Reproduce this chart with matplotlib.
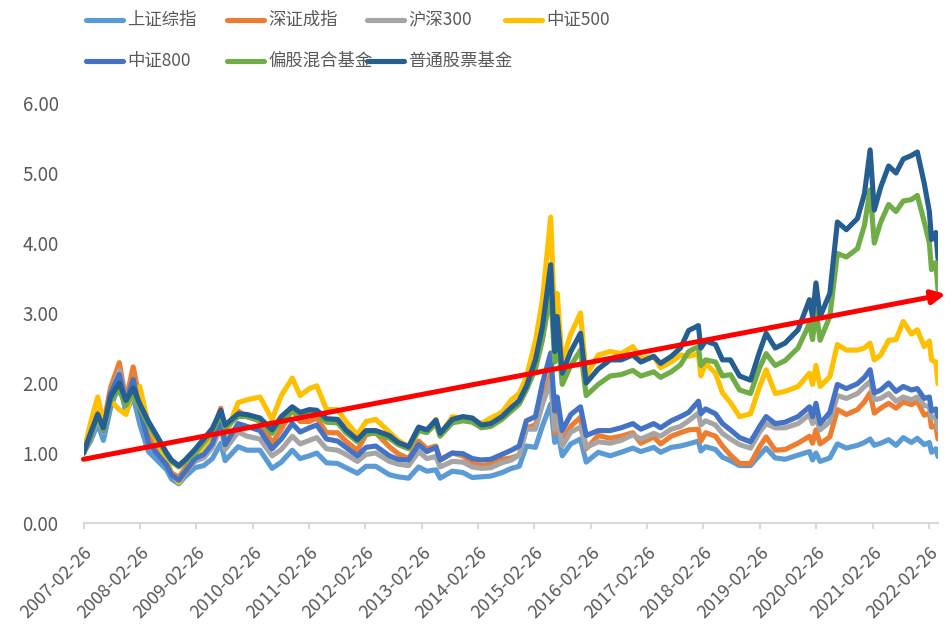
import numpy as np
import pandas as pd
import matplotlib
matplotlib.use('Agg')
import matplotlib.pyplot as plt
from matplotlib.lines import Line2D
from matplotlib.ticker import FormatStrFormatter

plt.rcParams['font.family'] = ['Noto Sans CJK SC', 'DejaVu Sans']

# 采样日期
dates = pd.to_datetime([
    '2007-02-26', '2007-04-15', '2007-05-29', '2007-07-05', '2007-08-20', '2007-10-16', '2007-11-28', '2008-01-14', '2008-02-26', '2008-04-22',
    '2008-06-20', '2008-08-18', '2008-09-18', '2008-11-04', '2008-12-15', '2009-02-17', '2009-04-15', '2009-06-10', '2009-08-04', '2009-09-01',
    '2009-11-24', '2010-01-20', '2010-04-15', '2010-07-02', '2010-08-31', '2010-11-10', '2010-12-31', '2011-03-01', '2011-04-18', '2011-06-20',
    '2011-08-31', '2011-10-24', '2012-01-06', '2012-03-02', '2012-05-04', '2012-07-31', '2012-09-26', '2012-12-03', '2013-02-06', '2013-03-31',
    '2013-05-29', '2013-06-25', '2013-09-12', '2013-11-20', '2014-01-20', '2014-03-20', '2014-05-20', '2014-07-31', '2014-09-30', '2014-11-20',
    '2015-01-05', '2015-03-05', '2015-04-20', '2015-06-12', '2015-07-08', '2015-07-24', '2015-08-26', '2015-10-20', '2015-12-22', '2016-01-28',
    '2016-04-15', '2016-07-01', '2016-09-10', '2016-11-25', '2017-01-16', '2017-04-10', '2017-05-24', '2017-08-01', '2017-09-30', '2017-11-22',
    '2018-01-24', '2018-02-09', '2018-03-12', '2018-05-15', '2018-06-29', '2018-08-20', '2018-10-18', '2018-12-28', '2019-02-25', '2019-04-08',
    '2019-06-06', '2019-08-09', '2019-11-01', '2020-01-14', '2020-02-03', '2020-02-25', '2020-03-23', '2020-05-25', '2020-07-13', '2020-09-09',
    '2020-11-20', '2021-01-04', '2021-02-10', '2021-03-09', '2021-04-20', '2021-06-10', '2021-07-28', '2021-09-13', '2021-11-05', '2021-12-13',
    '2022-01-27', '2022-03-01', '2022-03-15', '2022-04-12', '2022-04-26',
])

# 上证综指
sh = [1.00, 1.18, 1.42, 1.18, 1.64, 2.00, 1.58, 1.81, 1.41, 1.02,
      0.89, 0.76, 0.63, 0.56, 0.66, 0.79, 0.82, 0.92, 1.14, 0.89,
      1.09, 1.04, 1.04, 0.78, 0.87, 1.04, 0.92, 0.96, 1.00, 0.86,
      0.85, 0.79, 0.71, 0.81, 0.81, 0.69, 0.66, 0.64, 0.80, 0.74,
      0.76, 0.64, 0.74, 0.72, 0.65, 0.66, 0.67, 0.72, 0.78, 0.81,
      1.10, 1.08, 1.39, 1.70, 1.15, 1.34, 0.96, 1.13, 1.20, 0.87,
      1.01, 0.96, 1.01, 1.07, 1.02, 1.08, 1.01, 1.08, 1.10, 1.13,
      1.17, 1.03, 1.09, 1.05, 0.94, 0.89, 0.82, 0.82, 0.97, 1.07,
      0.93, 0.91, 0.97, 1.02, 0.90, 1.00, 0.88, 0.93, 1.13, 1.07,
      1.11, 1.15, 1.20, 1.11, 1.14, 1.19, 1.11, 1.22, 1.15, 1.21,
      1.12, 1.15, 1.01, 1.06, 0.95]
# 深证成指
sz = [1.00, 1.21, 1.58, 1.40, 1.93, 2.29, 1.75, 2.23, 1.75, 1.29,
      1.05, 0.90, 0.72, 0.65, 0.78, 1.00, 1.13, 1.29, 1.64, 1.29,
      1.60, 1.52, 1.46, 1.14, 1.34, 1.62, 1.45, 1.45, 1.50, 1.29,
      1.29, 1.17, 1.04, 1.26, 1.29, 1.09, 0.99, 0.92, 1.17, 1.06,
      1.10, 0.90, 1.00, 0.96, 0.86, 0.82, 0.84, 0.91, 0.93, 0.97,
      1.36, 1.40, 1.74, 2.13, 1.29, 1.55, 1.17, 1.38, 1.51, 1.06,
      1.25, 1.21, 1.24, 1.29, 1.14, 1.23, 1.13, 1.24, 1.29, 1.33,
      1.34, 1.17, 1.29, 1.24, 1.10, 0.97, 0.85, 0.85, 1.09, 1.23,
      1.04, 1.05, 1.14, 1.24, 1.14, 1.33, 1.13, 1.23, 1.62, 1.55,
      1.62, 1.73, 1.86, 1.57, 1.64, 1.71, 1.64, 1.73, 1.69, 1.74,
      1.54, 1.57, 1.37, 1.39, 1.20]
# 沪深300
hs300 = [1.00, 1.22, 1.50, 1.30, 1.85, 2.18, 1.75, 2.00, 1.60, 1.15,
         0.98, 0.84, 0.70, 0.62, 0.72, 0.88, 0.93, 1.08, 1.38, 1.05,
         1.30, 1.24, 1.20, 0.96, 1.05, 1.24, 1.13, 1.18, 1.22, 1.06,
         1.04, 0.98, 0.88, 0.98, 1.00, 0.88, 0.84, 0.82, 1.02, 0.92,
         0.95, 0.80, 0.88, 0.87, 0.80, 0.78, 0.79, 0.86, 0.90, 0.97,
         1.34, 1.34, 1.70, 2.04, 1.34, 1.50, 1.10, 1.30, 1.37, 1.08,
         1.16, 1.14, 1.18, 1.26, 1.20, 1.28, 1.24, 1.34, 1.38, 1.46,
         1.57, 1.40, 1.46, 1.40, 1.28, 1.20, 1.12, 1.07, 1.30, 1.42,
         1.36, 1.36, 1.42, 1.55, 1.42, 1.50, 1.33, 1.45, 1.82, 1.78,
         1.85, 1.95, 2.02, 1.76, 1.78, 1.85, 1.74, 1.80, 1.76, 1.80,
         1.68, 1.66, 1.50, 1.52, 1.33]
# 中证500
zz500 = [1.00, 1.45, 1.80, 1.45, 1.75, 1.62, 1.55, 1.90, 1.95, 1.40,
         1.15, 0.90, 0.70, 0.58, 0.72, 0.95, 1.10, 1.25, 1.58, 1.25,
         1.72, 1.76, 1.80, 1.48, 1.82, 2.07, 1.82, 1.92, 1.96, 1.62,
         1.62, 1.45, 1.26, 1.45, 1.48, 1.30, 1.18, 1.09, 1.36, 1.30,
         1.48, 1.25, 1.52, 1.50, 1.48, 1.42, 1.50, 1.58, 1.76, 1.85,
         2.08, 2.60, 3.20, 4.37, 2.80, 3.28, 2.30, 2.70, 3.00, 2.10,
         2.40, 2.45, 2.42, 2.52, 2.35, 2.38, 2.22, 2.30, 2.40, 2.38,
         2.42, 2.10, 2.28, 2.14, 1.86, 1.72, 1.52, 1.56, 1.95, 2.19,
         1.85, 1.88, 1.95, 2.14, 1.98, 2.25, 1.95, 2.09, 2.55, 2.47,
         2.47, 2.50, 2.57, 2.33, 2.40, 2.61, 2.62, 2.88, 2.70, 2.76,
         2.52, 2.60, 2.33, 2.30, 1.99]
# 中证800
zz800 = [1.00, 1.25, 1.55, 1.32, 1.85, 2.12, 1.72, 2.05, 1.62, 1.15,
         0.98, 0.83, 0.69, 0.61, 0.73, 0.92, 0.98, 1.13, 1.50, 1.12,
         1.42, 1.38, 1.32, 1.06, 1.20, 1.42, 1.30, 1.36, 1.40, 1.20,
         1.17, 1.08, 0.96, 1.08, 1.10, 0.96, 0.91, 0.90, 1.12, 1.02,
         1.08, 0.90, 1.00, 0.99, 0.92, 0.90, 0.91, 0.98, 1.04, 1.10,
         1.46, 1.52, 2.00, 2.43, 1.60, 1.80, 1.32, 1.55, 1.66, 1.25,
         1.32, 1.32, 1.36, 1.42, 1.34, 1.42, 1.36, 1.46, 1.52, 1.58,
         1.74, 1.56, 1.63, 1.56, 1.42, 1.33, 1.22, 1.16, 1.38, 1.52,
         1.42, 1.44, 1.52, 1.66, 1.52, 1.71, 1.42, 1.58, 1.98, 1.92,
         1.99, 2.08, 2.19, 1.86, 1.90, 2.00, 1.88, 1.95, 1.90, 1.92,
         1.78, 1.80, 1.60, 1.63, 1.52]
# 偏股混合基金
mix_fund = [1.00, 1.28, 1.52, 1.33, 1.75, 1.90, 1.68, 1.85, 1.65, 1.40,
            1.20, 0.98, 0.88, 0.80, 0.88, 1.00, 1.15, 1.30, 1.56, 1.36,
            1.52, 1.52, 1.46, 1.28, 1.46, 1.60, 1.52, 1.56, 1.56, 1.44,
            1.43, 1.29, 1.16, 1.28, 1.28, 1.21, 1.12, 1.06, 1.32, 1.29,
            1.42, 1.24, 1.43, 1.46, 1.44, 1.36, 1.38, 1.48, 1.60, 1.70,
            1.90, 2.20, 2.62, 3.30, 2.30, 2.70, 1.98, 2.25, 2.47, 1.82,
            1.98, 2.10, 2.12, 2.18, 2.10, 2.16, 2.08, 2.16, 2.26, 2.45,
            2.52, 2.25, 2.33, 2.30, 2.10, 2.12, 1.90, 1.85, 2.22, 2.42,
            2.25, 2.32, 2.50, 2.85, 2.62, 3.04, 2.61, 2.95, 3.85, 3.80,
            3.92, 4.25, 4.76, 4.00, 4.30, 4.55, 4.45, 4.60, 4.62, 4.68,
            4.30, 4.00, 3.62, 3.72, 3.33]
# 普通股票基金
stock_fund = [1.00, 1.30, 1.55, 1.36, 1.80, 2.00, 1.75, 1.93, 1.70, 1.45,
              1.23, 1.00, 0.90, 0.82, 0.90, 1.05, 1.20, 1.35, 1.61, 1.40,
              1.56, 1.55, 1.50, 1.33, 1.52, 1.66, 1.58, 1.62, 1.61, 1.49,
              1.48, 1.33, 1.19, 1.32, 1.32, 1.25, 1.15, 1.09, 1.37, 1.33,
              1.47, 1.28, 1.48, 1.52, 1.50, 1.40, 1.42, 1.52, 1.65, 1.75,
              1.95, 2.33, 2.81, 3.69, 2.45, 2.95, 2.14, 2.45, 2.71, 2.00,
              2.20, 2.33, 2.33, 2.40, 2.30, 2.38, 2.28, 2.38, 2.50, 2.75,
              2.82, 2.50, 2.60, 2.55, 2.33, 2.33, 2.10, 2.04, 2.45, 2.71,
              2.50, 2.57, 2.76, 3.19, 2.95, 3.43, 2.95, 3.28, 4.30, 4.19,
              4.35, 4.70, 5.33, 4.47, 4.80, 5.10, 5.00, 5.20, 5.25, 5.30,
              4.85, 4.45, 4.05, 4.15, 3.78]

names = ['上证综指', '深证成指', '沪深300', '中证500', '中证800', '偏股混合基金', '普通股票基金']
series = [sh, sz, hs300, zz500, zz800, mix_fund, stock_fund]
colors = ['#5B9BD5', '#ED7D31', '#A5A5A5', '#FFC000', '#4472C4', '#70AD47', '#255E91']

# 红色趋势箭头 起点/终点
arrow_start = (pd.Timestamp('2007-02-26'), 0.91)
arrow_end = (pd.Timestamp('2022-06-15'), 3.27)

W, H = 952, 632
fig = plt.figure(figsize=(W / 100, H / 100), dpi=100)
ax = fig.add_axes([83.5 / W, 1 - 523 / H, (938 - 83.5) / W, (523 - 103) / H])

for vals, c in zip(series, colors):
    ax.plot(dates, vals, color=c, lw=3.7, solid_joinstyle='round', solid_capstyle='round')

ax.annotate('', xy=arrow_end, xytext=arrow_start, annotation_clip=False,
            arrowprops=dict(arrowstyle='-|>', color='#FF0000', lw=3.6,
                            mutation_scale=20, shrinkA=0, shrinkB=0))

ax.set_ylim(0, 6)
ax.set_xlim(dates[0], dates[-1])
ax.set_yticks(np.arange(0, 6.01, 1))
ax.yaxis.set_major_formatter(FormatStrFormatter('%.2f'))
xt = pd.date_range('2007-02-26', periods=16, freq=pd.DateOffset(years=1))
ax.set_xticks(xt)
ax.set_xticklabels([d.strftime('%Y-%m-%d') for d in xt], rotation=45,
                   ha='right', va='top', rotation_mode='anchor')

for s in ['left', 'top', 'right']:
    ax.spines[s].set_visible(False)
ax.spines['bottom'].set_color('#D9D9D9')
ax.spines['bottom'].set_linewidth(1.5)
ax.tick_params(axis='y', length=0, pad=18, labelsize=13.5, labelcolor='#595959')
ax.tick_params(axis='x', length=4, width=1.5, color='#D9D9D9', pad=11,
               labelsize=13, labelcolor='#595959')

# 图例 手动排布 两行四列
col_x = [86, 227, 367, 505]
row_y = [20, 61]
for i, (name, c) in enumerate(zip(names, colors)):
    r, k = divmod(i, 4)
    x0, y0 = col_x[k], 1 - row_y[r] / H
    fig.add_artist(Line2D([x0 / W, (x0 + 37) / W], [y0, y0], color=c, lw=3.7,
                          solid_capstyle='round'))
    fig.text((x0 + 41) / W, y0, name, ha='left', va='center', fontsize=12.5,
             color='#595959')

fig.savefig('out.png', dpi=100)
